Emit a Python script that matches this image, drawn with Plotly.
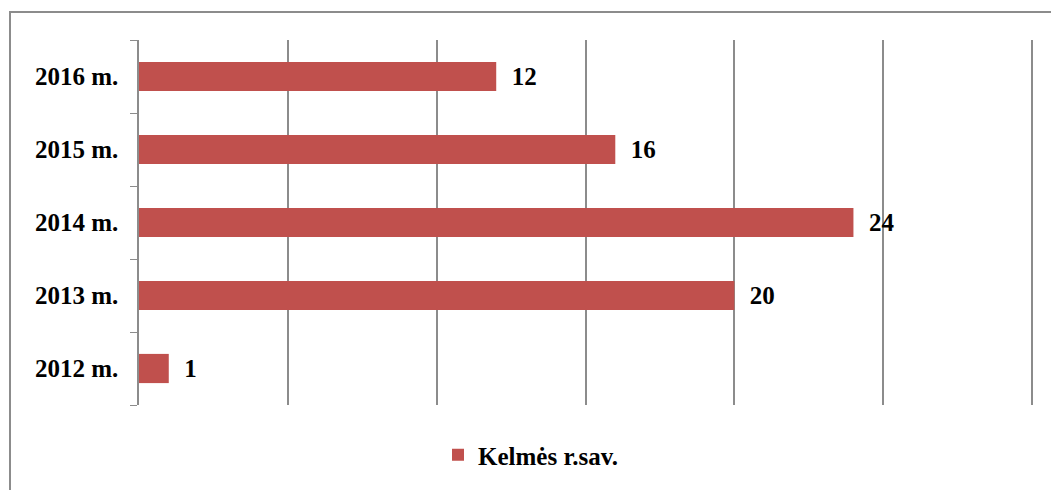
import plotly.graph_objects as go

years = ["2012 m.", "2013 m.", "2014 m.", "2015 m.", "2016 m."]
values = [1, 20, 24, 16, 12]
series_name = "Kelmės r.sav."

W, H = 1051, 490
ml, mr, mt, mb = 139, 13, 40, 85
pw, ph = W - ml - mr, H - mt - mb
xmax = 30.2

FONT = dict(family="Liberation Serif", size=25, color="black", weight="bold")

fig = go.Figure()
fig.add_trace(go.Bar(
    y=years, x=values, orientation="h", name=series_name,
    marker=dict(color="#C0504D", line=dict(width=0)),
    text=values, texttemplate="  %{x}", textposition="outside",
    textfont=FONT,
    cliponaxis=False,
))

border_x0 = (10 - ml) / pw
border_y1 = 1 + (mt - 12) / ph
fig.add_shape(type="rect", xref="paper", yref="paper",
              x0=border_x0, x1=1.2, y0=-0.5, y1=border_y1,
              line=dict(color="#8c8c8c", width=2), layer="below")

fig.update_layout(
    width=W, height=H,
    margin=dict(l=ml, r=mr, t=mt, b=mb, pad=0),
    paper_bgcolor="white", plot_bgcolor="white",
    bargap=0.6,
    showlegend=True,
    legend=dict(orientation="h", x=(438 - ml) / pw, xanchor="left",
                y=-(455 - (H - mb)) / ph, yanchor="middle",
                font=FONT),
    font=FONT,
    xaxis=dict(range=[0, xmax], dtick=5, tick0=0, showgrid=True, gridcolor="#8c8c8c", gridwidth=1.5,
               showticklabels=False, zeroline=False, showline=False, fixedrange=True),
    yaxis=dict(type="category", tickson="boundaries", ticks="outside", ticklen=7,
               tickcolor="#8c8c8c", showline=True, linecolor="#8c8c8c", linewidth=1.5,
               showgrid=False, ticklabelstandoff=14,
               tickfont=FONT),
)
fig.write_html("out.html")
